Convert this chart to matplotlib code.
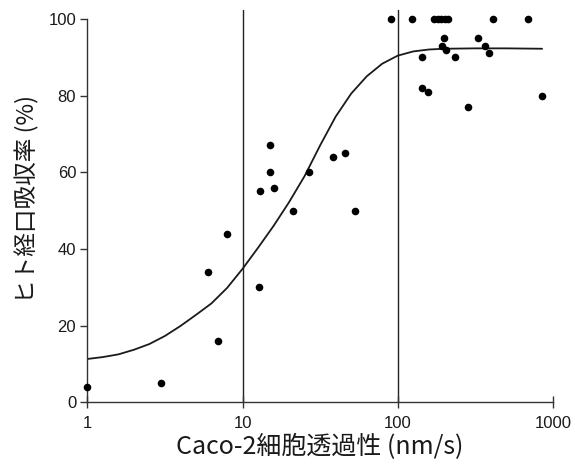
import matplotlib
matplotlib.use('Agg')
import matplotlib.pyplot as plt
from matplotlib.ticker import FixedLocator, FixedFormatter, NullLocator

# Scatter data: Caco-2 permeability (nm/s) vs human oral absorption (%)
papp = [1, 3, 7, 6, 8, 12.8, 12.9, 15, 15, 16, 21, 27, 38, 46, 53,
        91, 123, 172, 181, 191, 201, 212, 408, 693,
        199, 327, 192, 205, 363, 389, 144, 233, 144, 157, 282, 844]
absorption = [4, 5, 16, 34, 44, 30, 55, 67, 60, 56, 50, 60, 64, 65, 50,
              100, 100, 100, 100, 100, 100, 100, 100, 100,
              95, 95, 93, 92, 93, 91, 90, 90, 82, 81, 77, 80]

# Fitted curve (log10 of permeability, absorption %)
curve_log_papp = [0.0, 0.1, 0.2, 0.3, 0.4, 0.5, 0.6, 0.7, 0.8, 0.9, 1.0,
                  1.1, 1.2, 1.3, 1.4, 1.5, 1.6, 1.7, 1.8, 1.9, 2.0, 2.1,
                  2.2, 2.3, 2.5, 2.7, 2.93]
curve_abs = [11.3, 11.8, 12.5, 13.7, 15.2, 17.3, 19.9, 22.8, 25.8, 29.8, 34.8,
             40.3, 46.0, 52.2, 59.0, 67.0, 74.5, 80.5, 85.0, 88.3, 90.4, 91.5,
             92.0, 92.2, 92.3, 92.3, 92.2]

ref_lines = [10, 100]
x_ticks = [1, 10, 100, 1000]
x_ticklabels = ['1', '10', '100', '1000']
y_ticks = [0, 20, 40, 60, 80, 100]

fig = plt.figure(figsize=(5.75, 4.7), dpi=100)
ax = fig.add_axes([0.1518, 0.1440, 0.8099, 0.8347])

ax.set_xscale('log')
ax.set_xlim(1, 1000)
ax.set_ylim(0, 102.3)

for xv in ref_lines:
    ax.axvline(xv, color='#222222', lw=1.0, zorder=1)

curve_x = [10 ** v for v in curve_log_papp]
ax.plot(curve_x, curve_abs, color='#1a1a1a', lw=1.3, zorder=2,
        solid_capstyle='round', solid_joinstyle='round')

ax.scatter(papp, absorption, s=30, color='black', zorder=3, clip_on=False,
           linewidths=0)

for side in ['top', 'right']:
    ax.spines[side].set_visible(False)
ax.spines['left'].set_bounds(0, 100)
for side in ['left', 'bottom']:
    ax.spines[side].set_color('#333333')
    ax.spines[side].set_linewidth(1.0)

ax.xaxis.set_major_locator(FixedLocator(x_ticks))
ax.xaxis.set_major_formatter(FixedFormatter(x_ticklabels))
ax.xaxis.set_minor_locator(NullLocator())
ax.set_yticks(y_ticks)

ax.tick_params(axis='x', direction='inout', length=8, width=1.0,
               color='#333333', pad=6, labelsize=12)
ax.tick_params(axis='y', direction='out', length=5, width=1.0,
               color='#333333', pad=3, labelsize=12)
for lab in ax.get_xticklabels() + ax.get_yticklabels():
    lab.set_fontfamily('Liberation Sans')
    lab.set_color('#1a1a1a')

label_font = ['Noto Sans CJK JP', 'DejaVu Sans']
ax.set_xlabel('Caco-2細胞透過性 (nm/s)', family=label_font, fontsize=18,
              color='#1a1a1a', labelpad=2)
ax.set_ylabel('ヒト経口吸収率 (%)', family=label_font, fontsize=17,
              color='#1a1a1a')
ax.yaxis.set_label_coords(-0.103, 0.5195)

fig.savefig('out.png', dpi=100)
